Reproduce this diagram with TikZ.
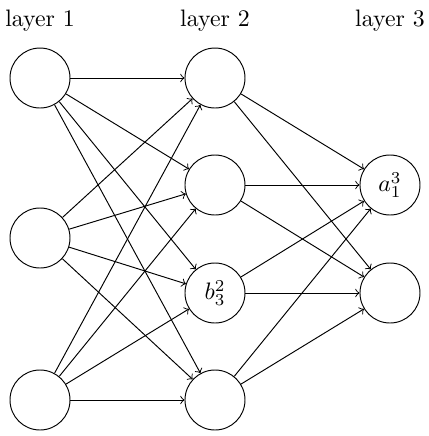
\documentclass[tikz,border=0pt]{standalone}
\begin{document}
\begin{tikzpicture}[x=0.42pt,y=-0.42pt,
  neuron/.style={draw,circle,minimum size=60*0.42pt,inner sep=0pt},
  conn/.style={->}]
\useasboundingbox (0,0) rectangle (429,436);
\node[anchor=base] (t1) at (40,26) {layer 1};
\node[anchor=base] (t2) at (215,26) {layer 2};
\node[anchor=base] (t3) at (390,26) {layer 3};
\node[neuron] (a1) at (40,78) {};
\node[neuron] (a2) at (40,238) {};
\node[neuron] (a3) at (40,400) {};
\node[neuron] (b1) at (215,78) {};
\node[neuron] (b2) at (215,185) {};
\node[neuron] (b3) at (215,293) {$b^2_3$};
\node[neuron] (b4) at (215,400) {};
\node[neuron] (c1) at (390,185) {$a^3_1$};
\node[neuron] (c2) at (390,293) {};
\foreach \i in {a1,a2,a3}
  \foreach \j in {b1,b2,b3,b4}
    \draw[conn] (\i) -- (\j);
\foreach \i in {b1,b2,b3,b4}
  \foreach \j in {c1,c2}
    \draw[conn] (\i) -- (\j);
\end{tikzpicture}
\end{document}
